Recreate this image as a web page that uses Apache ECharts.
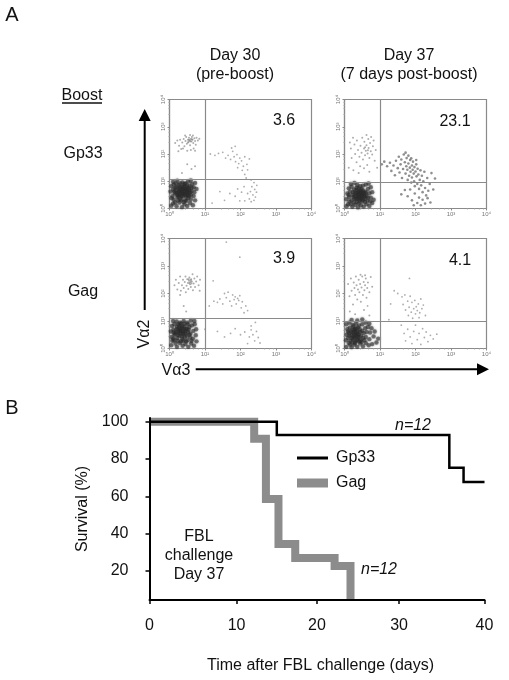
<!DOCTYPE html>
<html>
<head>
<meta charset="utf-8">
<style>html,body{margin:0;background:#fff}#main{width:509px;height:680px;filter:blur(0.4px)}</style>
<script src="https://cdn.jsdelivr.net/npm/echarts@6/dist/echarts.min.js"></script>
</head>
<body>
<div id="main"></div>
<script>
// flow plots: points are [log10 Va3, log10 Va2]
const p1Core = [[.05,.1],[.12,.32],[.2,.08],[.28,.22],[.35,.05],[.42,.15],[.5,.09],[.58,.2],[.66,.12],[.72,.3],[.08,.45],[.15,.55],[.22,.42],[.3,.36],[.37,.44],[.44,.3],[.52,.38],[.6,.34],[.68,.46],[.03,.62],[.1,.7],[.18,.66],[.25,.58],[.32,.52],[.38,.6],[.46,.5],[.53,.56],[.6,.5],[.7,.6],[.76,.72],[.05,.82],[.12,.88],[.2,.78],[.27,.72],[.33,.66],[.4,.7],[.47,.62],[.55,.68],[.62,.64],[.68,.78],[.1,.98],[.18,.92],[.26,.86],[.34,.8],[.41,.84],[.48,.76],[.56,.82],[.63,.9],[.72,.94],[.22,1.02],[.36,.96],[.45,.92],[.52,.98],[.6,1.03],[.31,.62],[.36,.72],[.43,.58],[.49,.68],[.39,.78],[.44,.66],[.5,.6],[.27,.64],[.23,.5],[.34,.46],[.41,.52],[.47,.44],[.55,.46],[.58,.6],[.29,.78],[.16,.76],[.14,.62],[.2,.56],[.26,.44],[.33,.3],[.4,.24],[.48,.28],[.24,.3],[.16,.22],[.1,.18],[.06,.38],[.54,.74],[.42,.9],[.3,.92],[.5,.84],[.38,.54],[.45,.72],[.35,.58],[.52,.5],[.28,.52],[.62,.76]];
const p1Upper = [[.16,2.4],[.22,2.5],[.27,2.3],[.3,2.52],[.33,2.18],[.36,2.42],[.4,2.55],[.42,2.28],[.45,2.48],[.47,2.62],[.49,2.38],[.5,2.12],[.52,2.52],[.54,2.45],[.55,2.6],[.57,2.5],[.58,2.32],[.6,2.55],[.62,2.46],[.63,2.62],[.65,2.52],[.67,2.4],[.68,2.2],[.7,2.58],[.72,2.48],[.74,2.34],[.76,2.6],[.8,2.5],[.84,2.56],[.25,2.1],[.38,2.2],[.6,2.15],[.72,2.12],[.44,2.68],[.58,2.7],[.66,2.68],[.52,2.42],[.59,2.47],[.63,2.54],[.55,2.52],[.5,1.62],[.62,1.45],[.35,1.3],[.72,1.55]];
const p1Right = [[1.15,2],[1.28,1.95],[1.38,2.02],[1.5,2.06],[1.58,1.85],[1.65,1.95],[1.72,1.8],[1.78,2.1],[1.82,1.9],[1.86,1.72],[1.9,1.98],[1.95,1.65],[1.98,1.85],[2.03,1.75],[2.08,1.55],[2.12,1.9],[2.18,1.62],[2.25,1.82],[2.05,1.4],[2.12,1.25],[2.2,1.42],[2.16,1.12],[2.3,1.05],[2.38,.95],[1.75,2.22],[1.85,2.28],[1.92,1.5],[2.32,.8],[2.4,.7],[2.28,.62],[2.2,.55],[2.35,.5],[2.42,.42],[2.25,.35],[2.3,.25],[2.1,.8],[2.03,.6],[1.92,.72],[1.85,.45],[1.7,.55],[1.55,.3],[1.42,.62],[1.2,.2],[2.12,.28],[2.45,.6],[2.38,.3],[1.98,.28],[2.46,.85]];

const p2Core = [[.06,.08],[.14,.26],[.22,.06],[.3,.14],[.38,.04],[.46,.12],[.54,.07],[.62,.16],[.7,.09],[.78,.2],[.05,.34],[.13,.42],[.2,.3],[.28,.36],[.35,.24],[.42,.33],[.5,.26],[.57,.36],[.65,.3],[.74,.4],[.82,.32],[.08,.55],[.16,.62],[.23,.5],[.3,.58],[.36,.46],[.43,.52],[.49,.42],[.55,.5],[.62,.46],[.7,.56],[.78,.6],[.12,.74],[.2,.8],[.27,.7],[.34,.68],[.4,.74],[.46,.6],[.52,.66],[.59,.62],[.66,.72],[.74,.78],[.18,.9],[.28,.94],[.36,.86],[.44,.82],[.52,.84],[.6,.88],[.68,.92],[.33,.55],[.38,.6],[.44,.44],[.47,.56],[.41,.62],[.5,.54],[.36,.38],[.43,.28],[.52,.32],[.3,.46],[.25,.42],[.56,.44],[.6,.56],[.47,.36],[.39,.5],[.34,.76],[.48,.72],[.26,.22],[.18,.16],[.4,.18],[.58,.24],[.12,.5],[.66,.4],[.72,.26],[.1,.16],[.24,.6],[.45,.66],[.54,.58],[.41,.42],[.33,.34],[.49,.48]];
const p2Upper = [[.12,1.5],[.2,1.85],[.18,2.2],[.25,1.4],[.3,2],[.28,2.35],[.34,1.7],[.38,2.15],[.35,2.5],[.42,1.9],[.45,2.3],[.44,1.55],[.48,2.05],[.5,2.6],[.52,1.8],[.55,2.2],[.56,2.45],[.58,1.95],[.6,2.12],[.62,2.32],[.64,1.6],[.65,2.02],[.67,2.55],[.68,2.22],[.7,1.85],[.72,2.4],[.74,2.1],[.75,2.62],[.78,1.98],[.8,2.28],[.82,2.5],[.85,1.75],[.88,2.15],[.15,2.42],[.24,2.6],[.4,1.3],[.55,1.48],[.7,1.35],[.92,1.5],[.62,2.7],[.58,2.25],[.66,2.14]];
const p2Right = [[1.05,1.62],[1.12,1.72],[1.2,1.55],[1.28,1.68],[1.32,1.38],[1.38,1.58],[1.42,1.22],[1.45,1.75],[1.5,1.48],[1.53,1.9],[1.55,1.32],[1.58,1.62],[1.6,1.8],[1.62,1.12],[1.65,1.45],[1.67,1.98],[1.7,1.7],[1.72,1.28],[1.74,1.55],[1.75,1.85],[1.77,1.42],[1.78,1.05],[1.8,1.65],[1.82,1.2],[1.84,1.5],[1.85,1.78],[1.86,1.35],[1.88,.95],[1.9,1.58],[1.9,1.14],[1.92,1.42],[1.93,1.72],[1.95,1.28],[1.96,1],[1.97,1.52],[1.98,.82],[2,1.36],[2.02,1.62],[2.03,1.18],[2.05,.9],[2.06,1.46],[2.08,1.25],[2.1,.72],[2.12,1.05],[2.14,1.4],[2.16,.85],[2.18,1.2],[2.2,.6],[2.22,1],[2.25,1.35],[2.27,.75],[2.3,.48],[2.33,1.12],[2.36,.65],[2.4,.9],[2.45,1.3],[1.7,.68],[1.78,.45],[1.85,.7],[1.9,.3],[1.98,.55],[2.05,.2],[2.1,.4],[2.15,.12],[2.2,.32],[2.27,.18],[2.34,.38],[1.6,.52],[1.95,.12],[2.42,.22],[1.88,1.84],[1.8,1.94],[2.02,1.78],[1.72,2.05],[2.55,1.1],[2.5,.7]];

const p3Core = [[.05,.12],[.13,.3],[.21,.06],[.29,.2],[.37,.1],[.45,.16],[.53,.06],[.61,.18],[.69,.1],[.76,.26],[.06,.42],[.14,.5],[.22,.38],[.28,.46],[.36,.34],[.43,.42],[.5,.3],[.58,.4],[.66,.36],[.74,.48],[.04,.62],[.11,.68],[.18,.6],[.25,.66],[.31,.56],[.38,.62],[.45,.54],[.52,.6],[.59,.54],[.67,.64],[.75,.7],[.07,.82],[.14,.88],[.21,.78],[.28,.84],[.35,.74],[.42,.8],[.49,.72],[.56,.78],[.63,.84],[.71,.88],[.1,1],[.2,.98],[.3,.94],[.4,1],[.5,.94],[.6,1.02],[.7,1],[.26,.58],[.33,.64],[.3,.72],[.37,.52],[.41,.7],[.35,.44],[.24,.5],[.44,.62],[.48,.46],[.54,.68],[.2,.7],[.16,.54],[.27,.76],[.39,.28],[.32,.26],[.47,.26],[.23,.28],[.17,.18],[.11,.36],[.56,.5],[.62,.28],[.42,.9],[.33,.9],[.52,.88],[.12,.58],[.08,.28],[.3,.64],[.39,.56],[.46,.7],[.36,.8],[.25,.88]];
const p3Upper = [[.14,2.3],[.18,2.5],[.22,2.15],[.26,2.38],[.3,2.62],[.32,2.1],[.35,2.3],[.38,2.5],[.4,2.2],[.43,2.42],[.45,2.62],[.46,2.05],[.48,2.28],[.5,2.52],[.52,2.38],[.53,2.16],[.55,2.46],[.56,2.58],[.58,2.34],[.59,2.42],[.6,2.24],[.61,2.52],[.63,2.44],[.65,2.7],[.66,2.12],[.68,2.36],[.7,2.55],[.72,2.24],[.75,2.44],[.78,2.62],[.82,2.3],[.86,2.5],[.56,2.38],[.6,2.48],[.62,2.36],[.54,2.52],[.4,1.55],[.47,1.35],[.85,2.1],[.3,1.95]];
const p3Right = [[1.12,1.55],[1.25,1.72],[1.35,1.68],[1.42,1.8],[1.5,1.62],[1.55,2],[1.6,1.85],[1.65,2.05],[1.7,1.72],[1.75,1.55],[1.78,1.95],[1.82,1.78],[1.85,1.88],[1.88,1.62],[1.92,1.82],[1.95,1.75],[1.98,1.92],[2.02,1.48],[2.05,1.7],[2.1,1.3],[2.15,1.55],[2.2,1.38],[1.6,3.87],[1.98,3.32],[1.23,2.46],[2.42,.95],[2.3,.82],[2.45,.62],[2.35,.5],[2.5,.4],[2.4,.28],[2.25,.42],[2.12,.6],[2,.5],[1.85,.72],[1.72,.55],[1.55,.42],[1.35,.62],[1,.7],[2.55,.2],[2.2,.18],[2.3,.68]];

const p4Core = [[.05,.06],[.12,.2],[.2,.05],[.28,.14],[.36,.06],[.44,.18],[.52,.08],[.6,.2],[.68,.12],[.78,.16],[.9,.22],[.04,.3],[.1,.38],[.17,.28],[.24,.34],[.31,.26],[.38,.36],[.45,.3],[.52,.38],[.6,.42],[.7,.34],[.82,.44],[.95,.36],[.06,.5],[.13,.56],[.2,.48],[.27,.54],[.33,.44],[.4,.52],[.47,.46],[.54,.56],[.62,.6],[.72,.58],[.85,.62],[.08,.7],[.15,.76],[.22,.68],[.29,.72],[.36,.62],[.43,.7],[.5,.64],[.58,.74],[.66,.78],[.76,.74],[.05,.88],[.14,.94],[.23,.86],[.32,.9],[.41,.84],[.5,.88],[.6,.94],[.7,.9],[.2,1.04],[.36,1.02],[.5,1.06],[.24,.58],[.3,.62],[.26,.44],[.34,.56],[.37,.48],[.21,.38],[.28,.68],[.18,.62],[.31,.5],[.4,.42],[.14,.46],[.44,.6],[.33,.72],[.25,.8],[.38,.76],[.16,.14],[.3,.2],[.22,.22],[.1,.62],[.48,.24],[.56,.3],[.42,.26],[.28,.4],[.35,.3]];
const p4Upper = [[.1,2.35],[.14,1.9],[.18,2.55],[.2,2.1],[.24,1.6],[.26,2.4],[.28,2.2],[.3,1.95],[.32,2.62],[.34,2.3],[.36,1.78],[.38,2.15],[.4,2.5],[.42,2.05],[.44,2.35],[.46,1.7],[.48,2.22],[.5,2.62],[.52,1.95],[.54,2.42],[.56,2.12],[.58,2.3],[.6,2.55],[.62,1.85],[.64,2.2],[.66,2.4],[.7,2.05],[.74,2.6],[.78,2.25],[.15,1.35],[.3,1.25],[.55,1.4],[.7,1.2],[.45,2.68],[.58,2.66]];
const p4Right = [[.65,1.55],[1.3,1.62],[1.5,2],[1.62,1.88],[1.65,1.6],[1.7,1.95],[1.72,1.4],[1.78,1.72],[1.8,1.2],[1.82,1.5],[1.85,1.9],[1.88,1.32],[1.9,1.68],[1.92,1.1],[1.95,1.45],[1.98,1.75],[2,1.26],[2.02,1.52],[2.05,1.38],[2.08,1.62],[2.1,1.12],[2.12,1.3],[2.15,1.8],[2.18,1.45],[2.22,1.58],[2.28,1.2],[1.83,2.55],[1.6,.85],[1.68,.55],[1.72,.28],[1.78,.7],[1.85,.42],[1.9,.18],[1.95,.62],[2,.85],[2.05,.32],[2.1,.55],[2.15,.15],[2.2,.72],[2.25,.4],[2.3,.6],[2.35,.25],[2.42,.48],[2.5,.35],[2.6,.52],[1.4,2.1],[1.25,1.05]];

const panelLabels = ['3.6', '23.1', '3.9', '4.1'];
const gatesX = [1, 1, 1, 1];
const gatesY = [1.09, .98, 1.11, 1];
const decades = ['10⁰', '10¹', '10²', '10³', '10⁴'];

// survival curves: [days, survival %]
const gp33 = [[0, 100], [15.2, 92.9], [35.8, 75.4], [37.5, 67.7], [40, 67.7]];
const gag = [[0, 100], [12.5, 90.9], [13.9, 58.6], [15.4, 34.5], [17.4, 27], [22.1, 22.7], [24, 4.5]];
const survivalTicks = [20, 40, 60, 80, 100];
const dayTicks = [0, 10.4, 20, 29.8, 40];

const pltGray = '#8a8a8a';
const font = '"Liberation Sans", Arial, sans-serif';
const rects = [
  { left: 169.5, top: 99.5, width: 142, height: 109 },
  { left: 344.5, top: 99.5, width: 142, height: 109 },
  { left: 169.5, top: 238.5, width: 142, height: 110 },
  { left: 344.5, top: 238.5, width: 142, height: 110 }
];
const cores = [p1Core, p2Core, p3Core, p4Core];
const uppers = [p1Upper, p2Upper, p3Upper, p4Upper];
const rights = [p1Right, p2Right, p3Right, p4Right];

const toLinear = pts => pts.map(p => [Math.pow(10, p[0]), Math.pow(10, p[1])]);

const grids = [], xAxes = [], yAxes = [], series = [];

rects.forEach((r, i) => {
  grids.push({ ...r, show: true, borderColor: pltGray, borderWidth: 1.2 });
  const common = {
    type: 'log', logBase: 10, min: 1, max: 10000, gridIndex: i,
    splitLine: { show: false },
    axisLine: { onZero: false, lineStyle: { color: pltGray, width: 1.2 } },
    axisTick: { length: 2, lineStyle: { color: pltGray } },
    minorTick: { show: true, splitNumber: 5, length: 1, lineStyle: { color: '#aaa' } }
  };
  const fmt = v => decades[Math.round(Math.log10(v))];
  xAxes.push({ ...common, position: 'bottom', axisLabel: { formatter: fmt, fontSize: 6, color: '#777', margin: 3, fontFamily: font } });
  yAxes.push({ ...common, position: 'left', axisLabel: { formatter: fmt, fontSize: 6, color: '#777', margin: 3, rotate: 90, fontFamily: font } });

  series.push({
    type: 'scatter', name: 'neg' + i, xAxisIndex: i, yAxisIndex: i, data: toLinear(cores[i]),
    symbolSize: 4.4, itemStyle: { color: '#222', opacity: .5, shadowBlur: 2, shadowColor: '#444' }, z: 3, silent: true
  });
  series.push({
    type: 'scatter', name: 'up' + i, xAxisIndex: i, yAxisIndex: i, data: toLinear(uppers[i]),
    symbolSize: 2, itemStyle: { color: '#777', opacity: .6 }, z: 3, silent: true
  });
  series.push({
    type: 'scatter', name: 'right' + i, xAxisIndex: i, yAxisIndex: i, data: toLinear(rights[i]),
    symbolSize: i === 1 ? 2.6 : 1.8, itemStyle: { color: i === 1 ? '#444' : '#999', opacity: i === 1 ? .6 : .8 }, z: 3, silent: true,
    markLine: {
      silent: true, symbol: 'none', label: { show: false }, animation: false,
      lineStyle: { color: pltGray, width: 1.2, type: 'solid' },
      data: [{ xAxis: Math.pow(10, gatesX[i]) }, { yAxis: Math.pow(10, gatesY[i]) }]
    }
  });
});

// survival plot
grids.push({ left: 149.5, top: 418, width: 335, height: 182 });
xAxes.push({
  type: 'value', gridIndex: 4, min: 0, max: 40, z: 5,
  name: 'Time after FBL challenge (days)', nameLocation: 'middle', nameGap: 58,
  nameTextStyle: { fontSize: 16, color: '#111', fontFamily: font, padding: [0, 0, 0, 7] },
  splitLine: { show: false },
  axisLine: { lineStyle: { color: '#000', width: 2 } },
  axisTick: { customValues: dayTicks, length: 4, lineStyle: { color: '#000', width: 1.5 } },
  axisLabel: { customValues: dayTicks, formatter: v => String(Math.round(v / 10) * 10), fontSize: 16, color: '#111', margin: 18, fontFamily: font }
});
yAxes.push({
  type: 'value', gridIndex: 4, min: 4.5, max: 102, z: 5,
  name: 'Survival (%)', nameLocation: 'middle', nameGap: 58,
  nameTextStyle: { fontSize: 16, color: '#111', fontFamily: font },
  splitLine: { show: false },
  axisLine: { lineStyle: { color: '#000', width: 2 } },
  axisTick: { customValues: survivalTicks, length: 4, lineStyle: { color: '#000', width: 1.5 } },
  axisLabel: { customValues: survivalTicks, fontSize: 16, color: '#111', margin: 21, fontFamily: font }
});
series.push({
  type: 'line', name: 'Gag', xAxisIndex: 4, yAxisIndex: 4, data: gag, step: 'end', symbol: 'none', z: 3,
  color: '#8c8c8c', lineStyle: { color: '#8c8c8c', width: 8, join: 'miter', cap: 'butt' }, silent: true
});
series.push({
  type: 'line', name: 'Gp33', xAxisIndex: 4, yAxisIndex: 4, data: gp33, step: 'end', symbol: 'none', z: 4,
  color: '#000', lineStyle: { color: '#000', width: 2.5, join: 'miter', cap: 'butt' }, silent: true
});

const label = (text, x, y, extra) => ({
  type: 'text', x, y, silent: true,
  style: { text, fill: '#111', font: '16px ' + font, align: 'center', verticalAlign: 'middle', ...extra }
});

const annotations = [
  label('A', 12, 15, { font: '20px ' + font }),
  label('B', 12, 408, { font: '20px ' + font }),
  label('Day 30', 235, 56),
  label('(pre-boost)', 235, 75),
  label('Day 37', 409, 56),
  label('(7 days post-boost)', 409, 75),
  label('Boost', 82, 96),
  label('Gp33', 83, 154),
  label('Gag', 83, 292),
  label(panelLabels[0], 284, 121),
  label(panelLabels[1], 455, 122),
  label(panelLabels[2], 284, 259),
  label(panelLabels[3], 460, 261),
  label('Vα3', 176, 371),
  { ...label('Vα2', 0, 0), x: 144.5, y: 334, rotation: Math.PI / 2 },
  label('n=12', 413, 426, { font: 'italic 16px ' + font }),
  label('n=12', 379, 570, { font: 'italic 16px ' + font }),
  label('FBL', 199, 537),
  label('challenge', 199, 556),
  label('Day 37', 199, 575),
  // underline of Boost
  { type: 'line', silent: true, shape: { x1: 62, y1: 103, x2: 102, y2: 103 }, style: { stroke: '#111', lineWidth: 1.5 } },
  // Va2 arrow
  { type: 'line', silent: true, shape: { x1: 144.7, y1: 118, x2: 144.7, y2: 310 }, style: { stroke: '#000', lineWidth: 2 } },
  { type: 'polygon', silent: true, shape: { points: [[144.7, 109], [138.7, 121], [150.7, 121]] }, style: { fill: '#000' } },
  // Va3 arrow
  { type: 'line', silent: true, shape: { x1: 195.7, y1: 369.3, x2: 480, y2: 369.3 }, style: { stroke: '#000', lineWidth: 2 } },
  { type: 'polygon', silent: true, shape: { points: [[489, 369.3], [477, 363.3], [477, 375.3]] }, style: { fill: '#000' } }
];

const chart = echarts.init(document.getElementById('main'));
chart.setOption({
  animation: false,
  backgroundColor: '#fff',
  grid: grids,
  xAxis: xAxes,
  yAxis: yAxes,
  series: series,
  legend: {
    data: [
      { name: 'Gp33', itemStyle: { opacity: 0 }, lineStyle: { color: '#000', width: 3 } },
      { name: 'Gag', itemStyle: { opacity: 0 }, lineStyle: { color: '#8c8c8c', width: 9 } }
    ],
    orient: 'vertical', left: 292.5, top: 450, padding: 0, itemWidth: 31, itemHeight: 14, itemGap: 9,
    selectedMode: false,
    textStyle: { fontSize: 16, color: '#111', fontFamily: font, padding: [0, 0, 0, 3] }
  },
  graphic: annotations
});
</script>
</body>
</html>
